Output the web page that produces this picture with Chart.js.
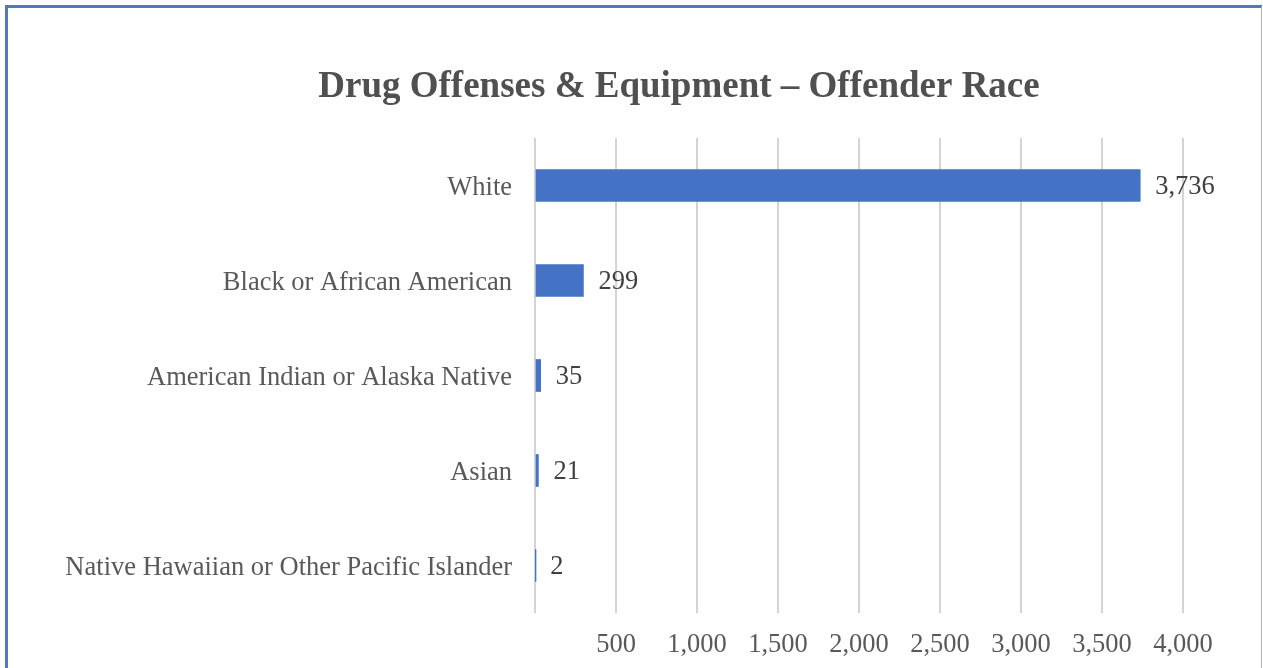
<!DOCTYPE html>
<html>
<head>
  <title>Drug Offenses - Offender Race</title>
  <script src="https://cdn.jsdelivr.net/npm/chart.js@4.4.1/dist/chart.umd.min.js"></script>
  <style>
    body { margin: 0; background: #fff; }
    #frame { position: absolute; left: 5px; top: 5px; width: 1253px; height: 700px;
             border-top: 3px solid #5277bd; border-left: 3px solid #5277bd; border-right: 1px solid #9fbbe6; }
    #wrap { position: absolute; left: 0; top: 0; width: 1263px; height: 668px; }
  </style>
</head>
<body>
  <div id="frame"></div>
  <div id="wrap"><canvas id="bars"></canvas></div>
  <script>
    var races = ["White", "Black or African American", "American Indian or Alaska Native",
                 "Asian", "Native Hawaiian or Other Pacific Islander"];
    var offenders = [3736, 299, 35, 21, 2];
    var xTicks = [0, 500, 1000, 1500, 2000, 2500, 3000, 3500, 4000];
    var chartTitle = "Drug Offenses & Equipment \u2013 Offender Race";

    var serif = "'Liberation Serif', 'Times New Roman', serif";

    // value labels to the right of each bar + title (drawn here so it can sit off-centre like the original)
    var extras = {
      id: 'extras',
      afterDatasetsDraw: function(chart) {
        var ctx = chart.ctx;
        var meta = chart.getDatasetMeta(0);
        ctx.save();
        ctx.font = "26.5px " + serif;
        ctx.fillStyle = "#404040";
        ctx.textAlign = "left";
        ctx.textBaseline = "middle";
        meta.data.forEach(function(bar, i) {
          ctx.fillText(offenders[i].toLocaleString('en-US'), bar.x + 15, bar.y + 2);
        });

        ctx.font = "bold 37px " + serif;
        ctx.fillStyle = "#505050";
        ctx.textAlign = "center";
        ctx.fillText(chartTitle, 679, 87);
        ctx.restore();
      }
    };

    new Chart(document.getElementById("bars"), {
      type: 'bar',
      data: {
        labels: races,
        datasets: [{
          data: offenders,
          backgroundColor: "#4472c4",
          barThickness: 32
        }]
      },
      plugins: [extras],
      options: {
        indexAxis: 'y',
        responsive: true,
        maintainAspectRatio: false,
        animation: false,
        layout: { padding: { left: 20, right: 80, top: 138, bottom: 4 } },
        plugins: {
          legend: { display: false },
          tooltip: { enabled: false },
          title: { display: false }
        },
        scales: {
          x: {
            min: 0,
            max: 4000,
            afterBuildTicks: function(scale) {
              scale.ticks = xTicks.map(function(v) { return { value: v }; });
            },
            afterFit: function(scale) { scale.height = 51; },
            grid: { color: "#d4d4d4", lineWidth: 2, drawTicks: false },
            border: { display: false },
            ticks: {
              padding: 16,
              color: "#595959",
              font: { family: serif, size: 26.5 },
              maxRotation: 0,
              callback: function(v) { return v === 0 ? '' : v.toLocaleString('en-US'); }
            }
          },
          y: {
            afterFit: function(scale) { scale.width = 515; },
            grid: { display: false },
            border: { display: false },
            ticks: {
              padding: 15,
              labelOffset: 3,
              color: "#595959",
              font: { family: serif, size: 26.5 }
            }
          }
        }
      }
    });
  </script>
</body>
</html>
